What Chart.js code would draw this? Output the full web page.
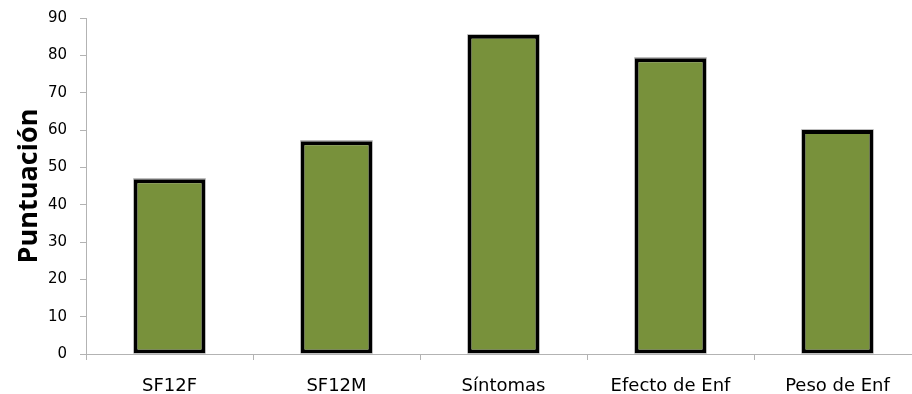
<!DOCTYPE html>
<html>
<head>
<meta charset="utf-8">
<script src="https://cdn.jsdelivr.net/npm/chart.js@4"></script>
<style>
  html, body { margin: 0; padding: 0; background: #fff; overflow: hidden; }
  #wrap { width: 921px; height: 394px; }
</style>
</head>
<body>
<div id="wrap"><canvas id="c" width="921" height="394"></canvas></div>
<script>
// Puntuación media por dimensión
const categories = ['SF12F', 'SF12M', 'Síntomas', 'Efecto de Enf', 'Peso de Enf'];
const scores = [46.8, 57, 85.5, 79.2, 60];
const yTicks = [0, 10, 20, 30, 40, 50, 60, 70, 80, 90];

const axisGray = '#b3b3b3';

// thin light outline around each bar, outside its black border
const barHalo = {
  id: 'barHalo',
  afterDatasetsDraw(chart) {
    const ctx = chart.ctx;
    ctx.save();
    ctx.strokeStyle = '#bdbdbd';
    ctx.lineWidth = 1;
    chart.getDatasetMeta(0).data.forEach(bar => {
      const { x, y, base, width } = bar.getProps(['x', 'y', 'base', 'width'], true);
      const l = Math.round(x - width / 2) - 0.5;
      const r = Math.round(x + width / 2) + 0.5;
      ctx.beginPath();
      ctx.moveTo(l, base);
      ctx.lineTo(l, Math.round(y) - 0.5);
      ctx.lineTo(r, Math.round(y) - 0.5);
      ctx.lineTo(r, base);
      ctx.stroke();
    });
    ctx.restore();
  }
};

new Chart(document.getElementById('c'), {
  type: 'bar',
  data: {
    labels: categories,
    datasets: [{
      data: scores,
      backgroundColor: '#78913b',
      borderColor: '#000000',
      borderWidth: 4,
      borderSkipped: false,
      categoryPercentage: 1,
      barPercentage: 0.43
    }]
  },
  plugins: [barHalo],
  options: {
    responsive: false,
    animation: false,
    devicePixelRatio: 1,
    layout: { padding: { top: 18, left: 0, right: 0, bottom: 0 } },
    plugins: { legend: { display: false }, tooltip: { enabled: false } },
    scales: {
      x: {
        offset: true,
        grid: { offset: true, drawOnChartArea: false, drawTicks: true, tickLength: 6, color: axisGray, lineWidth: 1 },
        border: { color: axisGray, width: 1 },
        ticks: { color: '#000', font: { family: 'DejaVu Sans', size: 18 }, padding: 16, maxRotation: 0 },
        afterFit: s => { s.height = 40; s.paddingLeft = 0; s.paddingRight = 0; }
      },
      y: {
        min: 0, max: 90,
        afterBuildTicks: s => { s.ticks = yTicks.map(v => ({ value: v })); },
        grid: { drawOnChartArea: false, drawTicks: true, tickLength: 6, color: axisGray, lineWidth: 1 },
        border: { color: axisGray, width: 1 },
        ticks: { color: '#000', font: { family: 'DejaVu Sans', size: 15 }, padding: 13 },
        title: {
          display: true, text: 'Puntuación', color: '#000',
          font: { family: 'Open Sans', size: 27, weight: 'bold' }, padding: { top: 13, bottom: 0 }
        },
        afterFit: s => { s.width = 86; s.paddingTop = 0; s.paddingBottom = 0; }
      }
    }
  }
});
</script>
</body>
</html>
